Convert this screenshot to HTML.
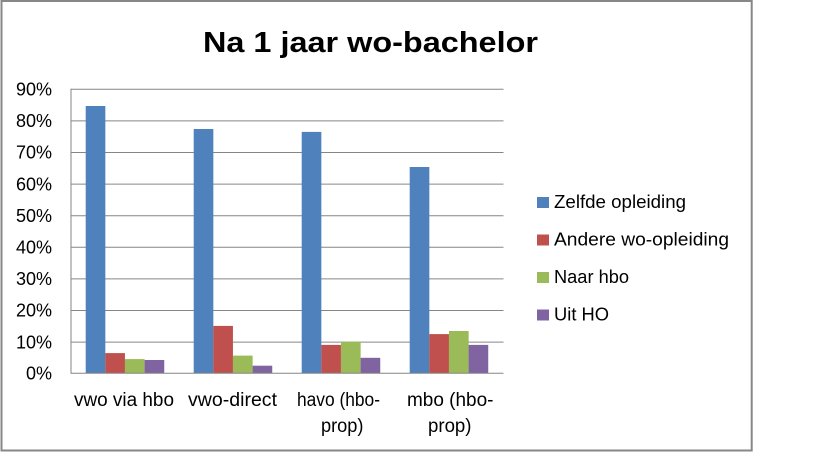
<!DOCTYPE html>
<html>
<head>
<meta charset="utf-8">
<style>
  html, body { margin: 0; padding: 0; background: #ffffff; }
  body { width: 819px; height: 460px; overflow: hidden; }
  svg { display: block; }
  text { font-family: "Liberation Sans", "DejaVu Sans", sans-serif; fill: #000; }
</style>
</head>
<body>
<svg width="819" height="460" viewBox="0 0 819 460" xmlns="http://www.w3.org/2000/svg">
  <rect x="0" y="0" width="819" height="460" fill="#ffffff"/>
  <!-- outer chart border -->
  <rect x="1.5" y="1" width="750.2" height="449.5" fill="none" stroke="#878787" stroke-width="2"/>

  <!-- title -->
  <text x="370.5" y="52" font-size="29" font-weight="bold" text-anchor="middle" textLength="335" lengthAdjust="spacingAndGlyphs">Na 1 jaar wo-bachelor</text>

  <!-- gridlines -->
  <g stroke="#868686" stroke-width="1">
    <line x1="71" y1="89.3" x2="503.5" y2="89.3"/>
    <line x1="71" y1="120.9" x2="503.5" y2="120.9"/>
    <line x1="71" y1="152.5" x2="503.5" y2="152.5"/>
    <line x1="71" y1="184.1" x2="503.5" y2="184.1"/>
    <line x1="71" y1="215.7" x2="503.5" y2="215.7"/>
    <line x1="71" y1="247.3" x2="503.5" y2="247.3"/>
    <line x1="71" y1="278.9" x2="503.5" y2="278.9"/>
    <line x1="71" y1="310.5" x2="503.5" y2="310.5"/>
    <line x1="71" y1="342.1" x2="503.5" y2="342.1"/>
  </g>

  <!-- bars -->
  <g>
    <!-- cat 1 -->
    <rect x="85.7" y="106" width="19.64" height="267.3" fill="#4F81BD"/>
    <rect x="105.3" y="353.1" width="19.64" height="20.2" fill="#C0504D"/>
    <rect x="125.0" y="359.1" width="19.64" height="14.2" fill="#9BBB59"/>
    <rect x="144.6" y="360" width="19.64" height="13.3" fill="#8064A2"/>
    <!-- cat 2 -->
    <rect x="193.7" y="129" width="19.64" height="244.3" fill="#4F81BD"/>
    <rect x="213.3" y="325.9" width="19.64" height="47.4" fill="#C0504D"/>
    <rect x="233.0" y="355.6" width="19.64" height="17.7" fill="#9BBB59"/>
    <rect x="252.6" y="365.7" width="19.64" height="7.6" fill="#8064A2"/>
    <!-- cat 3 -->
    <rect x="301.7" y="131.9" width="19.64" height="241.4" fill="#4F81BD"/>
    <rect x="321.3" y="344.9" width="19.64" height="28.4" fill="#C0504D"/>
    <rect x="341.0" y="341.7" width="19.64" height="31.6" fill="#9BBB59"/>
    <rect x="360.6" y="357.8" width="19.64" height="15.5" fill="#8064A2"/>
    <!-- cat 4 -->
    <rect x="409.7" y="167" width="19.64" height="206.3" fill="#4F81BD"/>
    <rect x="429.3" y="334.1" width="19.64" height="39.2" fill="#C0504D"/>
    <rect x="449.0" y="331" width="19.64" height="42.3" fill="#9BBB59"/>
    <rect x="468.6" y="344.9" width="19.64" height="28.4" fill="#8064A2"/>
  </g>

  <!-- axes -->
  <g stroke="#868686" stroke-width="1">
    <line x1="71" y1="88.8" x2="71" y2="373.8"/>
    <line x1="71" y1="373.3" x2="503.5" y2="373.3"/>
  </g>

  <!-- y labels -->
  <g font-size="18" text-anchor="end">
    <text x="52" y="95.5">90%</text>
    <text x="52" y="127.1">80%</text>
    <text x="52" y="158.7">70%</text>
    <text x="52" y="190.3">60%</text>
    <text x="52" y="221.9">50%</text>
    <text x="52" y="253.5">40%</text>
    <text x="52" y="285.1">30%</text>
    <text x="52" y="316.7">20%</text>
    <text x="52" y="348.3">10%</text>
    <text x="52" y="379.7">0%</text>
  </g>

  <!-- x labels -->
  <g font-size="19">
    <text x="74" y="406" textLength="100" lengthAdjust="spacingAndGlyphs">vwo via hbo</text>
    <text x="188" y="406" textLength="89" lengthAdjust="spacingAndGlyphs">vwo-direct</text>
    <text x="297" y="406" textLength="83" lengthAdjust="spacingAndGlyphs">havo (hbo-</text>
    <text x="321" y="432" textLength="42.5" lengthAdjust="spacingAndGlyphs">prop)</text>
    <text x="407" y="406" textLength="86.5" lengthAdjust="spacingAndGlyphs">mbo (hbo-</text>
    <text x="428" y="432" textLength="43.5" lengthAdjust="spacingAndGlyphs">prop)</text>
  </g>

  <!-- legend -->
  <g>
    <rect x="537" y="197" width="12" height="11" fill="#4F81BD"/>
    <rect x="537" y="234.5" width="12" height="11" fill="#C0504D"/>
    <rect x="537" y="272" width="12" height="11" fill="#9BBB59"/>
    <rect x="537" y="309.5" width="12" height="11" fill="#8064A2"/>
  </g>
  <g font-size="18.5">
    <text x="554" y="208" textLength="132" lengthAdjust="spacingAndGlyphs">Zelfde opleiding</text>
    <text x="554" y="245.5" textLength="175" lengthAdjust="spacingAndGlyphs">Andere wo-opleiding</text>
    <text x="554" y="283" textLength="75" lengthAdjust="spacingAndGlyphs">Naar hbo</text>
    <text x="554" y="320.5" textLength="55" lengthAdjust="spacingAndGlyphs">Uit HO</text>
  </g>
</svg>
</body>
</html>
